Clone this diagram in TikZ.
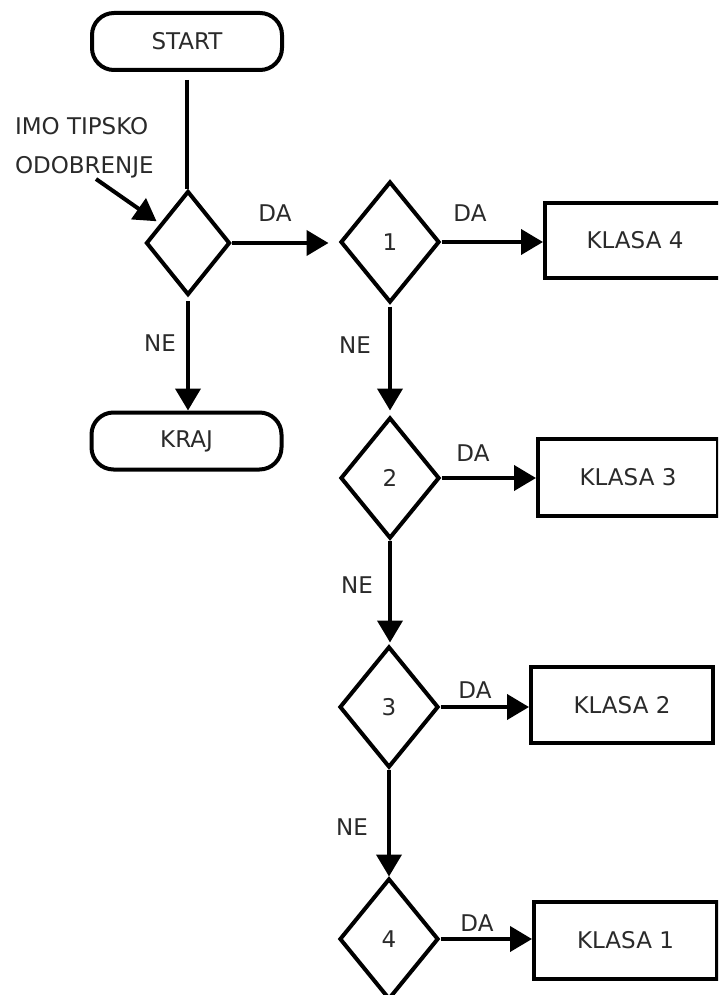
\documentclass[tikz,border=0pt]{standalone}
\usepackage{fontspec}
\setmainfont{DejaVu Sans}
\usetikzlibrary{arrows.meta,shapes.geometric,calc}
\definecolor{txt}{HTML}{2A2A2A}
\begin{document}
\begin{tikzpicture}[x=1pt,y=-1pt,
  line width=4pt,
  every node/.style={text=txt, font=\fontsize{23}{39}\selectfont},
  term/.style={draw=black, rectangle, rounded corners=22pt, minimum width=190pt, minimum height=57pt, inner sep=0pt},
  dec/.style={draw=black, diamond, minimum width=99pt, minimum height=121pt, inner sep=0pt},
  cls/.style={draw=black, rectangle, minimum width=182pt, minimum height=76pt, inner sep=0pt},
  lbl/.style={inner sep=0pt},
  arr/.style={-{Triangle[length=22pt,width=25pt]}},
]
\useasboundingbox (0,0) rectangle (718,995);
\clip (0,0) rectangle (718,995);

% terminators
\node[term] (start) at (187,41.5) {START};
\node[term] (kraj) at (186.5,441) {KRAJ};

% decisions
\node[dec, minimum width=84pt, minimum height=104pt] (d0) at (188,243) {};
\node[dec] (d1) at (390,242) {1};
\node[dec] (d2) at (390,478) {2};
\node[dec] (d3) at (389,707) {3};
\node[dec] (d4) at (389,939) {4};

% classes
\node[cls, minimum width=180pt, minimum height=75pt] (k4) at (635,240) {KLASA 4};
\node[cls, minimum width=180pt, minimum height=77pt] (k3) at (628,477.5) {KLASA 3};
\node[cls] (k2) at (622,705) {KLASA 2};
\node[cls, minimum width=183pt, minimum height=77pt] (k1) at (625.5,940.5) {KLASA 1};

% annotation
\node[lbl, align=left, anchor=west] (imo) at (13,148) {IMO TIPSKO\\ODOBRENJE};
\coordinate (a1) at (96,179);
\draw[arr, shorten >=4pt] (a1) -- ($(d0.west)!0.36!(d0.north)$);

% connectors
\draw[shorten <=8pt] (start.south) -- (start.south |- d0.north);
\draw[arr, shorten >=10pt] (d0.east) -- (d0.east -| d1.west);
\draw[arr] (d1.east) -- (d1.east -| k4.west);
\draw[arr, shorten <=4pt] (d0.south) -- (d0.south |- kraj.north);
\draw[arr, shorten <=2pt, shorten >=5pt] (d1.south) -- (d1.south |- d2.north);
\draw[arr, shorten >=2pt] (d2.south) -- (d2.south |- d3.north);
\draw[arr] (d3.south) -- (d3.south |- d4.north);
\draw[arr] (d2.east) -- (d2.east -| k3.west);
\draw[arr] (d3.east) -- (d3.east -| k2.west);
\draw[arr] (d4.east) -- (d4.east -| k1.west);

% labels
\node[lbl] (da0) at (275,213) {DA};
\node[lbl] (da1) at (470,213) {DA};
\node[lbl] (da2) at (473,453) {DA};
\node[lbl] (da3) at (475,690) {DA};
\node[lbl] (da4) at (477,923) {DA};
\node[lbl] (ne0) at (160,343) {NE};
\node[lbl] (ne1) at (355,345) {NE};
\node[lbl] (ne2) at (357,585) {NE};
\node[lbl] (ne3) at (352,827) {NE};
\end{tikzpicture}
\end{document}
